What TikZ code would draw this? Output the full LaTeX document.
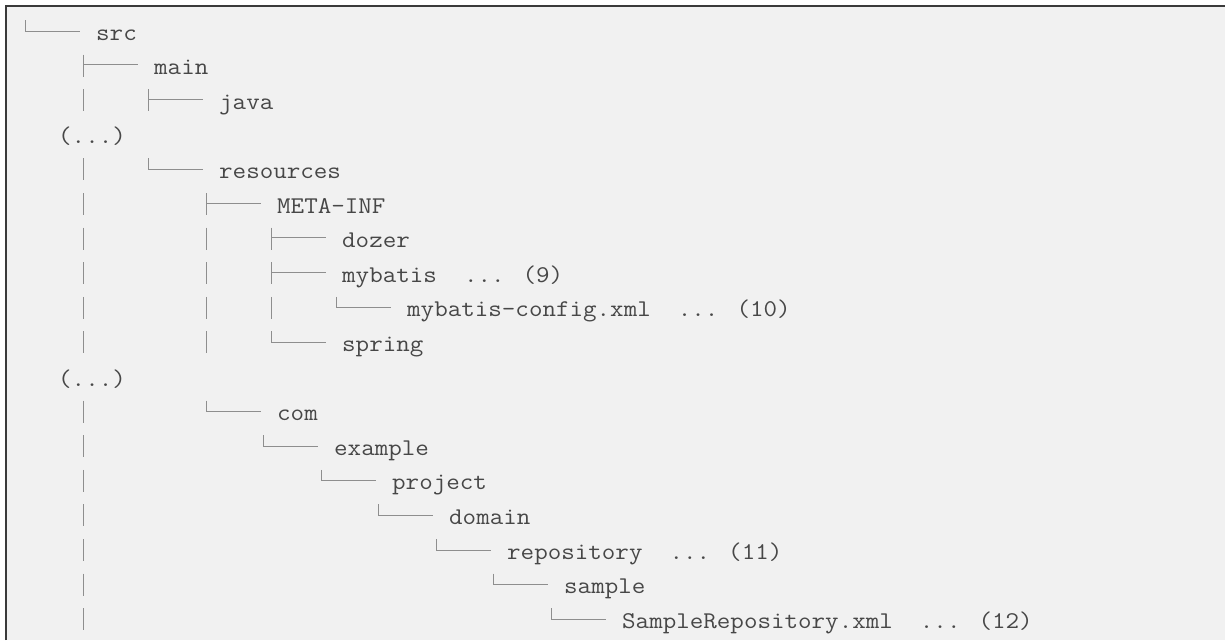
\documentclass[tikz,border=0pt]{standalone}
\usepackage{fontspec}
\usepackage{graphicx}

\definecolor{panelbg}{HTML}{F1F1F1}
\definecolor{textgray}{HTML}{474747}
\definecolor{linegray}{HTML}{8E8E8E}
\definecolor{framegray}{HTML}{3A3A3A}

\tikzset{
  entry/.style={anchor=base west, inner sep=0pt, text=textgray,
    font=\fontsize{24}{28}\selectfont\ttfamily},
  link/.style={draw=linegray, line width=1pt}
}

% file names, widened to the reference's character pitch
\newcommand\fname[1]{\scalebox{1.095}[1]{#1}}
% tree glyphs, drawn from the entry they lead to
\newcommand\teebranch[1]{\draw[link] (#1.base west) ++(-71,-20) -- ++(0,22)
  (#1.base west) ++(-71,-10) -- ++(55,0);}
\newcommand\lastbranch[1]{\draw[link] (#1.base west) ++(-71,-20) -- ++(0,11) -- ++(55,0);}
\newcommand\treebar[2]{\draw[link] (#1 |- #2.base) ++(0,-20) -- ++(0,22);}

\begin{document}
\begin{tikzpicture}[x=1pt,y=-1pt]
\useasboundingbox (0,0) rectangle (1225,640);
\fill[panelbg] (6,6) rectangle (1225,640);
\draw[framegray, line width=1.5pt] (6,640) -- (6,6) -- (1225,6);

\coordinate (k1) at (83,0);
\coordinate (k3) at (206,0);
\coordinate (k4) at (271,0);

\node[entry] (src)     at (96,40)        {\fname{src}};
\node[entry] (main)    at (154,40+34.6)  {\fname{main}};
\node[entry] (java)    at (219,40+2*34.6) {\fname{java}};
\node[entry] (more1)   at (58,40+3*34.6) {\fname{(...)}};
\node[entry] (res)     at (219,40+4*34.6) {\fname{resources}};
\node[entry] (meta)    at (277,40+5*34.6) {\fname{META-INF}};
\node[entry] (dozer)   at (342,40+6*34.6) {\fname{dozer}};
\node[entry] (mybatis) at (342,40+7*34.6) {\fname{mybatis\ \ ... (9)}};
\node[entry] (mbconf)  at (407,40+8*34.6) {\fname{mybatis-config.xml\ \ ... (10)}};
\node[entry] (spring)  at (342,40+9*34.6) {\fname{spring}};
\node[entry] (more2)   at (58,40+10*34.6) {\fname{(...)}};
\node[entry] (com)     at (277,40+11*34.6) {\fname{com}};
\node[entry] (example) at (334,40+12*34.6) {\fname{example}};
\node[entry] (project) at (392,40+13*34.6) {\fname{project}};
\node[entry] (domain)  at (449,40+14*34.6) {\fname{domain}};
\node[entry] (repo)    at (507,40+15*34.6) {\fname{repository\ \ ... (11)}};
\node[entry] (sample)  at (564,40+16*34.6) {\fname{sample}};
\node[entry] (samplexml) at (622,40+17*34.6) {\fname{SampleRepository.xml\ \ ... (12)}};

\lastbranch{src}
\teebranch{main}
\teebranch{java}
\lastbranch{res}
\teebranch{meta}
\teebranch{dozer}
\teebranch{mybatis}
\lastbranch{mbconf}
\lastbranch{spring}
\lastbranch{com}
\lastbranch{example}
\lastbranch{project}
\lastbranch{domain}
\lastbranch{repo}
\lastbranch{sample}
\lastbranch{samplexml}

\foreach \n in {java,res,meta,dozer,mybatis,mbconf,spring,com,example,project,domain,repo,sample,samplexml}
  \treebar{k1}{\n};
\foreach \n in {dozer,mybatis,mbconf,spring}
  \treebar{k3}{\n};
\treebar{k4}{mbconf}

\end{tikzpicture}
\end{document}
